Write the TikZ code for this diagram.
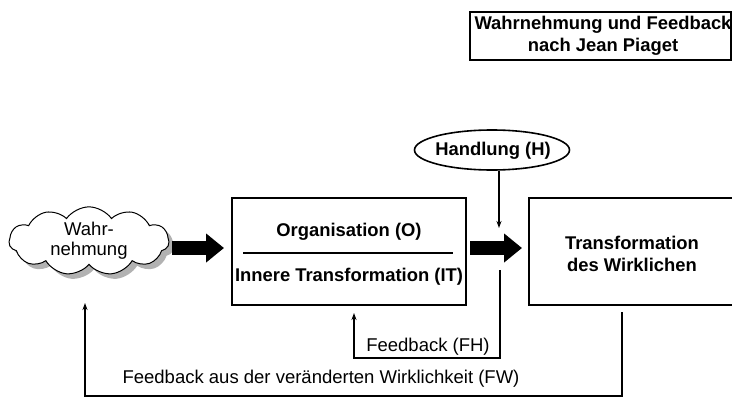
\documentclass[tikz,border=0pt]{standalone}
\usepackage{fontspec}
\setmainfont{Liberation Sans}
\usetikzlibrary{shapes.symbols,shapes.geometric,arrows.meta,shadows}
\begin{document}
\begin{tikzpicture}[x=1pt,y=-1pt,
  box/.style={draw,line width=2pt,rectangle,inner sep=0pt},
  boldtxt/.style={font=\bfseries\fontsize{18.4}{21.5}\selectfont,inner sep=0pt,align=center},
  lab/.style={font=\fontsize{18.5}{20}\selectfont,inner sep=0pt,align=center},
  thinline/.style={line width=1.6pt},
  tip/.style={-{Stealth[length=7pt,width=5pt]}},
  bigarrow/.style={line width=14pt,-{Triangle[length=18pt,width=28pt]}}
]
\useasboundingbox (0,0) rectangle (732,399);
% title
\node[box,minimum width=261pt,minimum height=48pt] (title) at (600.5,36) {};
\node[boldtxt] (titleT) at (603,36) {Wahrnehmung und Feedback\\nach Jean Piaget};
% cloud
\node[cloud,draw,cloud puffs=11,cloud puff arc=110,aspect=2.3,minimum width=160pt,minimum height=66pt,
      line width=1pt,fill=white,inner sep=0pt,
      drop shadow={shadow xshift=5pt,shadow yshift=-5pt,fill=gray!60,opacity=1},
      lab] (cloud) at (89,241) {Wahr-\\nehmung};
% organisation box
\node[box,minimum width=234pt,minimum height=107pt] (org) at (349,251.5) {};
\node[boldtxt] (orgO) at (349,232) {Organisation (O)};
\node[boldtxt] (orgIT) at (349,277) {Innere Transformation (IT)};
\draw[thinline] (243,253) -- (453,253);
% transformation box
\node[box,minimum width=206pt,minimum height=107pt] (transf) at (632,251.5) {};
\node[boldtxt] (transfT) at (632,254) {Transformation\\des Wirklichen};
% Handlung
\node[draw,ellipse,line width=1.6pt,minimum width=155pt,minimum height=40pt,inner sep=0pt] (hand) at (492,150) {};
\node[boldtxt] (handT) at (493,151) {Handlung (H)};
% big arrows
\coordinate (a1) at (172,248);
\draw[bigarrow,shorten >=7pt] (a1) -- (a1 -| org.west);
\coordinate (a2) at (470,248);
\draw[bigarrow,shorten >=6pt] (a2) -- (a2 -| transf.west);
% Handlung connector
\coordinate (hTip) at (499,228);
\draw[thinline,tip] (hand.south -| hTip) -- (hTip);
% Feedback FH
\coordinate (fhStart) at (500,270);
\coordinate (fhUp) at (354,358);
\draw[thinline,tip,shorten >=7pt] (fhStart) |- (fhUp) -- (fhUp |- org.south);
\node[lab] (fhLab) at (428,347) {Feedback (FH)};
% Feedback FW
\coordinate (fwStart) at (622,312);
\coordinate (fwLeft) at (85,396);
\coordinate (fwTip) at (85,303);
\draw[thinline,tip] (fwStart) |- (fwLeft) -- (fwTip);
\node[lab] (fwLab) at (321,379) {Feedback aus der veränderten Wirklichkeit (FW)};
\end{tikzpicture}
\end{document}
